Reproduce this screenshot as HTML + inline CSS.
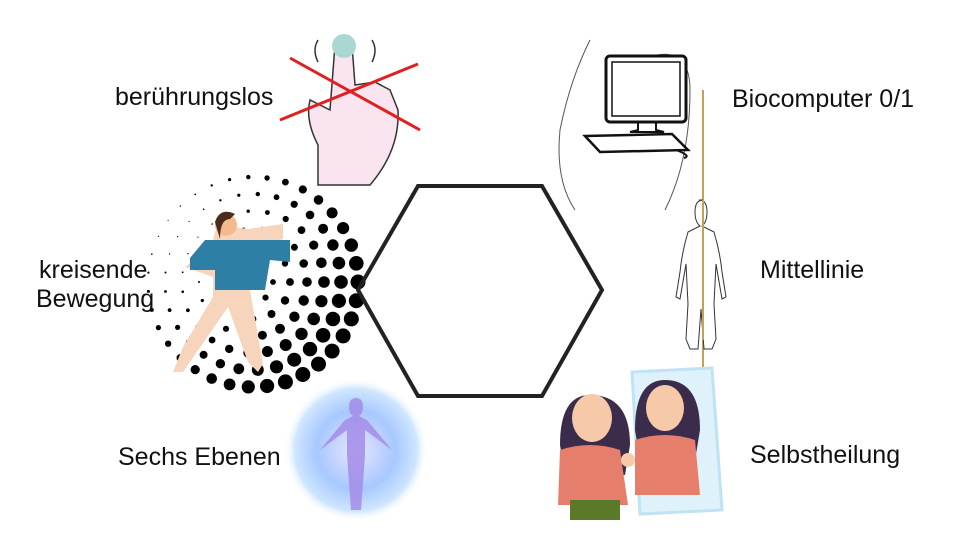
<!DOCTYPE html>
<html><head><meta charset="utf-8"><style>
body{margin:0;background:#fff}
.t{position:absolute;font-family:"Liberation Sans",sans-serif;font-size:25px;color:#111;white-space:nowrap}
</style></head><body>
<div style="position:relative;width:960px;height:540px;overflow:hidden">
<svg id="s" width="960" height="540" style="position:absolute;left:0;top:0">
<defs>
<radialGradient id="g"><stop offset="0" stop-color="#e8e4ff"/><stop offset="0.55" stop-color="#a8c8ff"/><stop offset="0.85" stop-color="#cfe6ff"/><stop offset="1" stop-color="#fff" stop-opacity="0"/></radialGradient>
</defs>
<g id="dots"></g>
<polygon points="358,290 418,186 542,186 602,290 542,396 418,396" fill="none" stroke="#222" stroke-width="4"/>
<path d="M318,185 L318,145 Q305,120 310,100 L330,110 L335,45 Q345,38 352,45 L355,85 L375,82 L390,90 L398,110 Q400,150 370,185 Z" fill="#f9e4f0" stroke="#333" stroke-width="1.5"/>
<circle cx="344" cy="46" r="12" fill="#a9d8d4"/>
<path d="M318,40 Q312,50 318,62 M372,40 Q378,50 372,62" stroke="#333" fill="none" stroke-width="1.5"/>
<line x1="290" y1="58" x2="420" y2="130" stroke="#e02020" stroke-width="3"/>
<line x1="280" y1="120" x2="418" y2="64" stroke="#e02020" stroke-width="3"/>
<path d="M590,40 Q570,80 560,130 Q555,180 575,210 M640,60 Q690,40 690,90 Q690,160 665,210" stroke="#555" fill="none" stroke-width="1"/>
<rect x="606" y="56" width="80" height="66" rx="4" fill="#fff" stroke="#111" stroke-width="3"/>
<rect x="612" y="62" width="68" height="54" fill="none" stroke="#111" stroke-width="1.5"/>
<path d="M638,122 L638,130 L630,132 L664,132 L656,130 L656,122" stroke="#111" fill="none" stroke-width="2"/>
<path d="M585,136 L672,134 L688,150 L600,152 Z" fill="#fff" stroke="#111" stroke-width="2.5"/>
<path d="M676,150 Q692,156 684,158" stroke="#111" fill="none" stroke-width="2"/>
<line x1="703" y1="90" x2="703" y2="370" stroke="#c8a050" stroke-width="2"/>
<path d="M703,200 q-8,0 -8,12 q0,10 5,14 l-12,6 q-6,20 -8,40 l-4,25 l4,2 l6,-35 l2,40 l-2,35 l4,10 l8,0 l3,-40 l3,40 l8,0 l4,-10 l-2,-35 l2,-40 l6,35 l4,-2 l-4,-25 q-2,-20 -8,-40 l-12,-6 q5,-4 5,-14 q0,-12 -8,-12z" fill="#fff" stroke="#333" stroke-width="1"/>
<line x1="703" y1="200" x2="703" y2="340" stroke="#c8a050" stroke-width="2"/>
<circle cx="356" cy="450" r="72" fill="url(#g)"/>
<path d="M356,398 q-7,0 -7,9 q0,7 4,9 l-8,4 l-25,30 l27,-20 l0,25 l4,55 l5,0 l0,-40 l0,40 l5,0 l4,-55 l0,-25 l27,20 l-25,-30 l-8,-4 q4,-2 4,-9 q0,-9 -7,-9z" fill="#a38ce8" opacity="0.85"/>
<path d="M632,372 L712,368 L722,510 L640,514 Z" fill="#dff2fb" stroke="#bfe3f4" stroke-width="3"/>
<path d="M590,395 q-30,0 -30,50 l5,30 l60,0 l5,-30 q0,-50 -40,-50z" fill="#3a2c4a"/>
<path d="M560,450 q30,-10 60,0 l8,55 l-70,0 z" fill="#e57e6a"/>
<rect x="570" y="500" width="50" height="20" fill="#5a7a2a"/>
<ellipse cx="592" cy="418" rx="20" ry="24" fill="#f6c9a8"/>
<path d="M665,380 q-30,0 -30,50 l5,30 l55,0 l5,-30 q0,-50 -35,-50z" fill="#3a2c4a"/>
<ellipse cx="665" cy="408" rx="19" ry="23" fill="#f6c9a8"/>
<path d="M635,440 q30,-10 60,0 l5,55 l-65,0 z" fill="#e57e6a"/>
<circle cx="628" cy="460" r="7" fill="#f6c9a8"/>
<path d="M218,225 q-10,20 0,30 l-25,6 l-8,6 l28,10 l0,20 l-30,50 l-10,25 l10,0 l45,-65 l20,55 l10,10 l5,-8 l-15,-85 l0,-25 l35,-15 l0,-15 l-35,5 z" fill="#f7d4bc"/>
<path d="M205,240 l55,0 l30,0 l0,22 l-20,-2 l-5,30 l-50,0 l0,-20 l-25,0 l0,-12 z" fill="#2e7fa6"/>
<circle cx="226" cy="225" r="11" fill="#f4b98f"/>
<path d="M215,222 q5,-15 20,-8 l-5,5 q-10,0 -10,20 z" fill="#4a2b1c"/>
</svg>
<div class="t" style="left:115px;top:83px">berührungslos</div>
<div class="t" style="left:732px;top:85px">Biocomputer 0/1</div>
<div class="t" style="left:760px;top:256px">Mittellinie</div>
<div class="t" style="left:39px;top:256px">kreisende</div>
<div class="t" style="left:36px;top:285px">Bewegung</div>
<div class="t" style="left:118px;top:443px">Sechs Ebenen</div>
<div class="t" style="left:750px;top:441px">Selbstheilung</div>
</div>
<script>
var g=document.getElementById('dots'),cx=253,cy=282,h='';
for(var r=20;r<=105;r+=17){var n=Math.round(2*Math.PI*r/19);for(var i=0;i<n;i++){var a=2*Math.PI*i/n;var x=cx+r*Math.cos(a),y=cy+r*Math.sin(a);
var w=(Math.cos(a-0.6)+1)/2;var s=0.6+w*6.5*(r/105+0.2);if(s>7.5)s=7.5;
h+='<circle cx="'+x.toFixed(1)+'" cy="'+y.toFixed(1)+'" r="'+s.toFixed(1)+'" fill="#000"/>';}}
g.innerHTML=h;
</script>
</body></html>
